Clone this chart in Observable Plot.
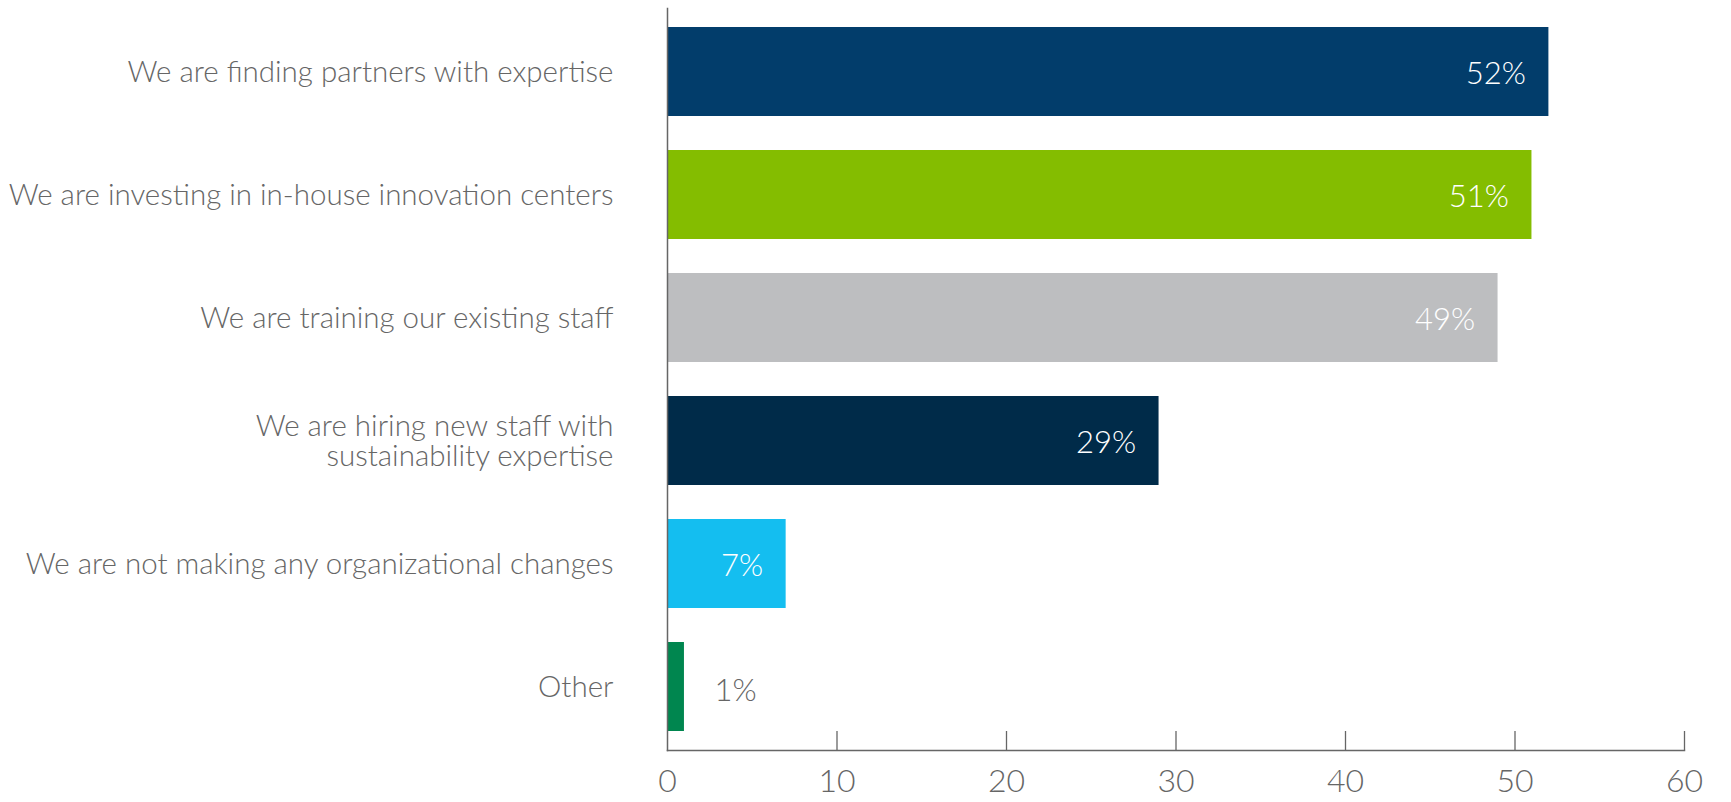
<!DOCTYPE html>
<html><head><meta charset="utf-8">
<script src="https://cdn.jsdelivr.net/npm/d3@7"></script>
<script src="https://cdn.jsdelivr.net/npm/@observablehq/plot@0.6"></script>
<style>
html,body{margin:0;padding:0;background:#fff;}
svg{font-family:Lato, "Open Sans", sans-serif; font-weight:300;}
</style></head>
<body><div id="chart"></div>
<script>
const categories = [
  "We are finding partners with expertise",
  "We are investing in in-house innovation centers",
  "We are training our existing staff",
  "We are hiring new staff with\nsustainability expertise",
  "We are not making any organizational changes",
  "Other"
];
const values = [52, 51, 49, 29, 7, 1];
const colors = ["#023D6B", "#84BD00", "#BDBEC0", "#002B49", "#14BEF0", "#00864F"];
const xTicks = [0, 10, 20, 30, 40, 50, 60];

const data = categories.map((c, i) => ({cat: c, value: values[i], color: colors[i], label: values[i] + "%"}));
const inside = data.filter(d => d.value >= 5);
const outside = data.filter(d => d.value < 5);

const W = 1731, H = 802, mt = 8, mb = 52;
const chart = Plot.plot({
  width: W, height: H,
  marginLeft: 667, marginRight: 47, marginTop: mt, marginBottom: mb,
  x: {domain: [0, 60], ticks: xTicks},
  y: {domain: categories, paddingInner: 0.28, paddingOuter: 0.14},
  style: {fontFamily: "Lato, 'Open Sans', sans-serif"},
  marks: [
    Plot.barX(data, {x: "value", y: "cat", fill: "color"}),
    Plot.ruleX(xTicks.slice(1), {stroke: "#666", strokeWidth: 1.3, insetTop: H - mt - mb - 19}),
    Plot.frame({anchor: "left", stroke: "#666", strokeWidth: 1.5}),
    Plot.frame({anchor: "bottom", stroke: "#666", strokeWidth: 1.5}),
    Plot.axisX({ticks: xTicks, tickSize: 0, tickPadding: 19, fontSize: 32, fill: "#666", label: null, fontWeight: 300}),
    Plot.axisY({tickSize: 0, tickPadding: 54, fontSize: 29.5, lineHeight: 1.02, fill: "#666", label: null, fontWeight: 300}),
    Plot.text(inside, {x: "value", y: "cat", text: "label", textAnchor: "end", dx: -23, dy: 2, fill: "white", fontSize: 31, fontWeight: 300}),
    Plot.text(outside, {x: "value", y: "cat", text: "label", textAnchor: "start", dx: 30, dy: 4, fill: "#666", fontSize: 31, fontWeight: 300})
  ]
});
document.getElementById("chart").appendChild(chart);
</script></body></html>
